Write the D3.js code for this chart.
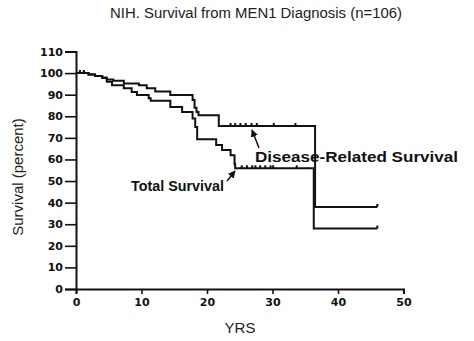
<!DOCTYPE html>
<html lang="en">
<head>
  <meta charset="UTF-8">
  <title>MEN1 Survival</title>
  <script src="https://cdnjs.cloudflare.com/ajax/libs/d3/7.8.5/d3.min.js"></script>
  <style>
    body { margin: 0; background: #fff; }
    text { font-family: "Liberation Sans", Arial, sans-serif; }
    .tick text { font-family: "DejaVu Sans", sans-serif; font-weight: bold; font-size: 11px; fill: #111; }
  </style>
</head>
<body>
  <svg></svg>
  <script>
    // step points: [years, percent]
    const diseaseSteps = [[0, 100], [1.9, 99.4], [2.9, 98.6], [4.0, 97.8], [4.7, 97], [5.7, 96.5], [7.3, 95.2],
      [9.6, 94.4], [10.8, 93], [12.1, 91.5], [14.4, 89.8], [17.8, 87.5], [18.1, 84], [18.4, 82], [18.7, 80.5],
      [21.8, 75.5], [36.5, 38], [46, 38]];
    const totalSteps = [[0, 100], [1.9, 99.4], [2.9, 98.6], [4.0, 97.8], [4.7, 96], [5.5, 94.4], [7.3, 93],
      [8.5, 91.3], [9.3, 89.8], [11.1, 88.3], [11.4, 87.2], [14.4, 84.3], [16.2, 82], [17.8, 79], [18.2, 75],
      [18.5, 69.4], [21.4, 66.7], [22.3, 64.4], [23.6, 62], [24.2, 58], [24.3, 55.9], [36.3, 28], [46, 28]];
    const diseaseCensored = [0.6, 1.2, 23.6, 24.3, 25.1, 25.9, 26.8, 27.6, 30.2, 33.5, 46];
    const totalCensored = [0.6, 1.2, 25.3, 26.1, 26.9, 27.4, 28.1, 28.9, 29.7, 30.1, 33.7, 46];
    const xTicks = [0, 10, 20, 30, 40, 50];
    const yTicks = [0, 10, 20, 30, 40, 50, 60, 70, 80, 90, 100, 110];

    const width = 474, height = 341;
    const svg = d3.select('svg').attr('width', width).attr('height', height);

    const x = d3.scaleLinear().domain([0, 50]).range([76, 403.5]);
    const y = d3.scaleLinear().domain([0, 110]).range([289, 51.5]);

    // value of a step curve at time t
    function stepAt(steps, t) {
      let v = steps[0][1];
      steps.forEach(s => { if (s[0] <= t) v = s[1]; });
      return v;
    }

    const line = d3.line().x(d => x(d[0])).y(d => y(d[1])).curve(d3.curveStepAfter);

    // axes
    const yAxis = svg.append('g')
      .attr('transform', `translate(${x(0)},0)`)
      .call(d3.axisLeft(y).tickValues(yTicks).tickSize(11).tickPadding(2));
    const xAxis = svg.append('g')
      .attr('transform', `translate(0,${y(0)})`)
      .call(d3.axisBottom(x).tickValues(xTicks).tickSize(5).tickPadding(4));
    [xAxis, yAxis].forEach(a => {
      a.select('.domain').attr('stroke', '#111').attr('stroke-width', 2);
      a.selectAll('.tick line').attr('stroke', '#111').attr('stroke-width', 1.6);
    });

    // curves
    [diseaseSteps, totalSteps].forEach(s => {
      svg.append('path').datum(s).attr('d', line)
        .attr('fill', 'none').attr('stroke', '#111').attr('stroke-width', 2);
    });

    // censor ticks
    [[diseaseSteps, diseaseCensored], [totalSteps, totalCensored]].forEach(([s, c]) => {
      svg.append('g').selectAll('line').data(c).enter().append('line')
        .attr('x1', d => x(d)).attr('x2', d => x(d))
        .attr('y1', d => y(stepAt(s, d))).attr('y2', d => y(stepAt(s, d)) - 3)
        .attr('stroke', '#111').attr('stroke-width', 2);
    });

    // arrow marker
    svg.append('defs').append('marker')
      .attr('id', 'arr').attr('viewBox', '0 0 10 10').attr('refX', 9).attr('refY', 5)
      .attr('markerWidth', 5).attr('markerHeight', 5).attr('orient', 'auto')
      .append('path').attr('d', 'M0,0L10,5L0,10z').attr('fill', '#111');

    svg.append('text').attr('x', 255).attr('y', 162)
      .attr('font-size', 14).attr('font-weight', 'bold').attr('fill', '#111')
      .attr('textLength', 203).attr('lengthAdjust', 'spacingAndGlyphs')
      .text('Disease-Related Survival');
    svg.append('line').attr('x1', 259).attr('y1', 148).attr('x2', 252).attr('y2', 130)
      .attr('stroke', '#111').attr('stroke-width', 1.5).attr('marker-end', 'url(#arr)');

    svg.append('text').attr('x', 131).attr('y', 191)
      .attr('font-size', 14).attr('font-weight', 'bold').attr('fill', '#111')
      .attr('textLength', 93).attr('lengthAdjust', 'spacingAndGlyphs')
      .text('Total Survival');
    svg.append('line').attr('x1', 227).attr('y1', 181).attr('x2', 235).attr('y2', 171)
      .attr('stroke', '#111').attr('stroke-width', 1.5).attr('marker-end', 'url(#arr)');

    // titles
    svg.append('text').attr('x', 256).attr('y', 18).attr('text-anchor', 'middle')
      .attr('font-size', 14).attr('fill', '#222')
      .attr('textLength', 292).attr('lengthAdjust', 'spacingAndGlyphs')
      .text('NIH. Survival from MEN1 Diagnosis (n=106)');
    svg.append('text').attr('x', 240).attr('y', 333).attr('text-anchor', 'middle')
      .attr('font-size', 15).attr('fill', '#222').text('YRS');
    svg.append('text').attr('transform', 'translate(23,177) rotate(-90)').attr('text-anchor', 'middle')
      .attr('font-size', 15).attr('fill', '#222').text('Survival (percent)');
  </script>
</body>
</html>
